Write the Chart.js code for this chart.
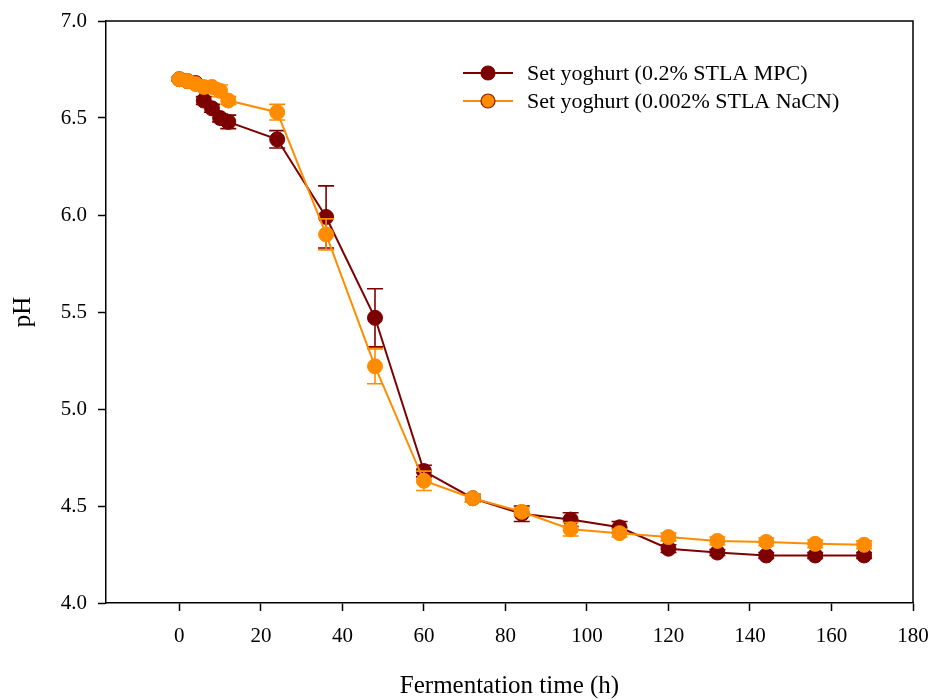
<!DOCTYPE html>
<html>
<head>
<meta charset="utf-8">
<script src="https://cdn.jsdelivr.net/npm/chart.js@4/dist/chart.umd.min.js"></script>
<style>
  html, body { margin: 0; padding: 0; background: #fff; }
  canvas { display: block; }
</style>
</head>
<body>
<canvas id="ph" width="936" height="700"></canvas>
<script>
// Fermentation time (h)
const hours = [0, 2, 4, 6, 8, 10, 12, 24, 36, 48, 60, 72, 84, 96, 108, 120, 132, 144, 156, 168];

// pH of set yoghurt, 0.2% STLA MPC
const phMPC = [6.70, 6.69, 6.68, 6.59, 6.55, 6.50, 6.48, 6.39, 5.99, 5.47, 4.68, 4.54, 4.46, 4.43, 4.39, 4.28, 4.26, 4.245, 4.245, 4.245];
const errMPC = [0.01, 0.01, 0.01, 0.02, 0.02, 0.02, 0.035, 0.045, 0.16, 0.15, 0.03, 0.02, 0.04, 0.035, 0.03, 0.02, 0.015, 0.015, 0.015, 0.015];

// pH of set yoghurt, 0.002% STLA NaCN
const phNaCN = [6.70, 6.69, 6.675, 6.66, 6.66, 6.64, 6.59, 6.53, 5.90, 5.22, 4.63, 4.54, 4.47, 4.38, 4.36, 4.34, 4.32, 4.315, 4.305, 4.30];
const errNaCN = [0.01, 0.01, 0.01, 0.01, 0.02, 0.03, 0.02, 0.04, 0.08, 0.09, 0.05, 0.02, 0.02, 0.035, 0.02, 0.02, 0.02, 0.02, 0.02, 0.02];

const xTicks = [0, 20, 40, 60, 80, 100, 120, 140, 160, 180];
const yTicks = [4.0, 4.5, 5.0, 5.5, 6.0, 6.5, 7.0];

const seriesNames = ['Set yoghurt (0.2% STLA MPC)', 'Set yoghurt (0.002% STLA NaCN)'];

const DARK = '#7d0000';
const ORANGE = '#ff8c00';
const SERIF = '"Liberation Serif", "Times New Roman", serif';

const toPoints = (ys) => hours.map((h, i) => ({ x: h, y: ys[i] }));

// Vertical error bars with caps, drawn just beneath each dataset's markers
const errorBars = {
  id: 'errorBars',
  beforeDatasetDraw(chart, args) {
    const ds = chart.data.datasets[args.index];
    if (!ds.errors) return;
    const xs = chart.scales.x, ys = chart.scales.y;
    const ctx = chart.ctx;
    ctx.save();
    ctx.strokeStyle = ds.borderColor;
    ctx.lineWidth = 1.6;
    const cap = 8;
    ds.data.forEach((p, i) => {
      const e = ds.errors[i];
      const px = xs.getPixelForValue(p.x);
      const top = ys.getPixelForValue(p.y + e);
      const bot = ys.getPixelForValue(p.y - e);
      ctx.beginPath();
      ctx.moveTo(px, top); ctx.lineTo(px, bot);
      ctx.moveTo(px - cap, top); ctx.lineTo(px + cap, top);
      ctx.moveTo(px - cap, bot); ctx.lineTo(px + cap, bot);
      ctx.stroke();
    });
    ctx.restore();
  }
};

// Closed frame around the plotting area
const frame = {
  id: 'frame',
  afterDraw(chart) {
    const { left, right, top, bottom } = chart.chartArea;
    const ctx = chart.ctx;
    ctx.save();
    ctx.strokeStyle = '#000';
    ctx.lineWidth = 1.5;
    ctx.beginPath();
    ctx.moveTo(left, top); ctx.lineTo(right, top); ctx.lineTo(right, bottom);
    ctx.stroke();
    ctx.restore();
  }
};

// Legend entries: line with a marker in its middle, then the label
const lineLegend = {
  id: 'lineLegend',
  afterDraw(chart) {
    const ctx = chart.ctx;
    const entries = [
      { label: seriesNames[0], line: DARK, fill: DARK, edge: DARK },
      { label: seriesNames[1], line: ORANGE, fill: ORANGE, edge: '#8b1a00' }
    ];
    ctx.save();
    ctx.font = '22px ' + SERIF;
    ctx.textBaseline = 'middle';
    ctx.textAlign = 'left';
    entries.forEach((e, i) => {
      const y = 73 + i * 28;
      ctx.strokeStyle = e.line;
      ctx.lineWidth = 2;
      ctx.beginPath();
      ctx.moveTo(463, y); ctx.lineTo(513, y);
      ctx.stroke();
      ctx.beginPath();
      ctx.arc(488, y, 7, 0, Math.PI * 2);
      ctx.fillStyle = e.fill;
      ctx.fill();
      ctx.lineWidth = 1.2;
      ctx.strokeStyle = e.edge;
      ctx.stroke();
      ctx.fillStyle = '#000';
      ctx.fillText(e.label, 527, y + 1);
    });
    ctx.restore();
  }
};

Chart.defaults.color = '#000';
Chart.defaults.font.family = SERIF;

new Chart(document.getElementById('ph'), {
  type: 'line',
  data: {
    datasets: [
      {
        label: seriesNames[0],
        data: toPoints(phMPC),
        errors: errMPC,
        borderColor: DARK,
        backgroundColor: DARK,
        pointBackgroundColor: DARK,
        pointBorderColor: DARK,
        pointRadius: 7.5,
        pointBorderWidth: 1,
        borderWidth: 2,
        tension: 0,
        order: 2
      },
      {
        label: seriesNames[1],
        data: toPoints(phNaCN),
        errors: errNaCN,
        borderColor: ORANGE,
        backgroundColor: ORANGE,
        pointBackgroundColor: ORANGE,
        pointBorderColor: ORANGE,
        pointRadius: 7.5,
        pointBorderWidth: 1,
        borderWidth: 2,
        tension: 0,
        order: 1
      }
    ]
  },
  options: {
    responsive: false,
    animation: false,
    devicePixelRatio: 1,
    events: [],
    layout: { padding: { top: 21, right: 23, bottom: 0, left: 0 } },
    plugins: {
      legend: { display: false },
      tooltip: { enabled: false }
    },
    scales: {
      x: {
        type: 'linear',
        min: -18,
        max: 180,
        afterBuildTicks(scale) { scale.ticks = xTicks.map(v => ({ value: v })); },
        afterFit(scale) {
          scale.height = 97;
          scale.paddingLeft = 0;
          scale.paddingRight = 0;
        },
        grid: { drawOnChartArea: false, drawTicks: true, tickLength: 8, tickColor: '#000', tickWidth: 1.5 },
        border: { display: true, color: '#000', width: 1.5 },
        ticks: { padding: 13, font: { size: 21, family: SERIF }, color: '#000', maxRotation: 0 },
        title: {
          display: true,
          text: 'Fermentation time (h)',
          font: { size: 25, family: SERIF, lineHeight: 1.1 },
          color: '#000',
          padding: { top: 0, bottom: 0 }
        }
      },
      y: {
        type: 'linear',
        min: 4.0,
        max: 7.0,
        afterBuildTicks(scale) { scale.ticks = yTicks.map(v => ({ value: v })); },
        afterFit(scale) {
          scale.width = 106;
          scale.paddingTop = 0;
          scale.paddingBottom = 0;
        },
        grid: { drawOnChartArea: false, drawTicks: true, tickLength: 8, tickColor: '#000', tickWidth: 1.5 },
        border: { display: true, color: '#000', width: 1.5 },
        ticks: {
          padding: 11,
          font: { size: 21, family: SERIF },
          color: '#000',
          callback: (v) => Number(v).toFixed(1)
        },
        title: {
          display: true,
          text: 'pH',
          font: { size: 25, family: SERIF, lineHeight: 1.1 },
          color: '#000',
          padding: { top: 10, bottom: 0 }
        }
      }
    }
  },
  plugins: [errorBars, frame, lineLegend]
});
</script>
</body>
</html>
